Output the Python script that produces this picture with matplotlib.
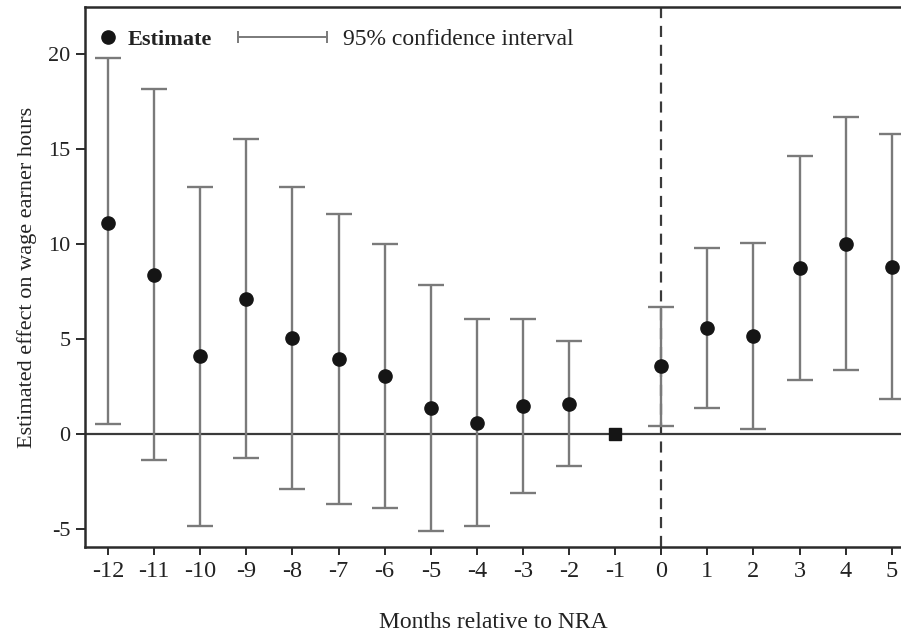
import numpy as np
import matplotlib
matplotlib.use("Agg")
import matplotlib.pyplot as plt
from matplotlib.lines import Line2D
from matplotlib.legend_handler import HandlerLine2D

plt.rcParams['font.family'] = ['Liberation Serif', 'DejaVu Serif']
plt.rcParams['axes.unicode_minus'] = False

months = np.arange(-12, 6)
estimate = [11.1, 8.4, 4.1, 7.1, 5.05, 3.95, 3.05, 1.35, 0.6, 1.45, 1.6, 0.0,
            3.57, 5.6, 5.17, 8.75, 10.0, 8.8]
ci_low = [0.5, -1.4, -4.85, -1.27, -2.9, -3.7, -3.9, -5.1, -4.85, -3.12, -1.67, 0.0,
          0.42, 1.37, 0.26, 2.85, 3.37, 1.85]
ci_high = [19.8, 18.2, 13.0, 15.55, 13.0, 11.6, 10.0, 7.83, 6.05, 6.05, 4.9, 0.0,
           6.7, 9.8, 10.08, 14.67, 16.7, 15.8]
ref_month = -1
x_ticks = list(range(-12, 6))
y_ticks = [-5, 0, 5, 10, 15, 20]

est = np.array(estimate)
lo = np.array(ci_low)
hi = np.array(ci_high)
m = months != ref_month

fig = plt.figure(figsize=(9.01, 6.33), dpi=100)
ax = fig.add_axes([85 / 901, 1 - 547 / 633, 816 / 901, 540 / 633])

dark = '#2b2b2b'
gray = '#7a7a7a'

ax.axhline(0, color='#3a3a3a', lw=1.6, zorder=1)
ax.axvline(0, color='#3a3a3a', lw=1.6, ls=(0, (5, 3.5)), zorder=1)

ax.errorbar(months[m], est[m], yerr=[est[m] - lo[m], hi[m] - est[m]],
            fmt='none', ecolor=gray, elinewidth=1.7, capsize=9.5, capthick=1.7, zorder=2)
ax.plot(months[m], est[m], 'o', color='#151515', ms=9.5, zorder=3)
ax.plot(months[~m], est[~m], 's', color='#151515', ms=8.5, zorder=3)

ax.set_xlim(-12.5, 5.2)
ax.set_ylim(-5.96, 22.5)
ax.set_xticks(x_ticks)
ax.set_xticklabels([str(v) for v in x_ticks])
ax.set_yticks(y_ticks)

for s in ['left', 'bottom', 'top']:
    ax.spines[s].set_color(dark)
    ax.spines[s].set_linewidth(1.8)
ax.spines['right'].set_visible(False)

ax.tick_params(axis='x', length=6, width=1.4, color=dark, labelsize=17.5, pad=4, labelcolor='#222222')
ax.tick_params(axis='y', length=6.5, width=1.4, color=dark, labelsize=16, pad=4, labelcolor='#222222')

ax.set_xlabel('Months relative to NRA', fontsize=17, color='#222222', labelpad=22)
ax.set_ylabel('Estimated effect on wage earner hours', fontsize=16, color='#222222', labelpad=8)

h_est = Line2D([], [], marker='o', color='#151515', ls='none', ms=9.5)
h_ci = Line2D([], [], marker='|', color=gray, lw=1.4, ms=9, mew=1.4)

leg1 = ax.legend([h_est], ['Estimate'], loc='center left', bbox_to_anchor=(0.0145, 0.940),
                 frameon=False, handlelength=1.0, handletextpad=0.37, borderpad=0,
                 borderaxespad=0, prop={'size': 16, 'weight': 'bold'})
for t in leg1.get_texts():
    t.set_color('#222222')
ax.add_artist(leg1)
leg2 = ax.legend([h_ci], ['95% confidence interval'], loc='center left',
                 bbox_to_anchor=(0.179, 0.940), frameon=False, handlelength=4.36,
                 handletextpad=0.36, borderpad=0, borderaxespad=0, prop={'size': 17},
                 handler_map={h_ci: HandlerLine2D(numpoints=2)})
for t in leg2.get_texts():
    t.set_color('#222222')

fig.savefig('out.png', dpi=100)
